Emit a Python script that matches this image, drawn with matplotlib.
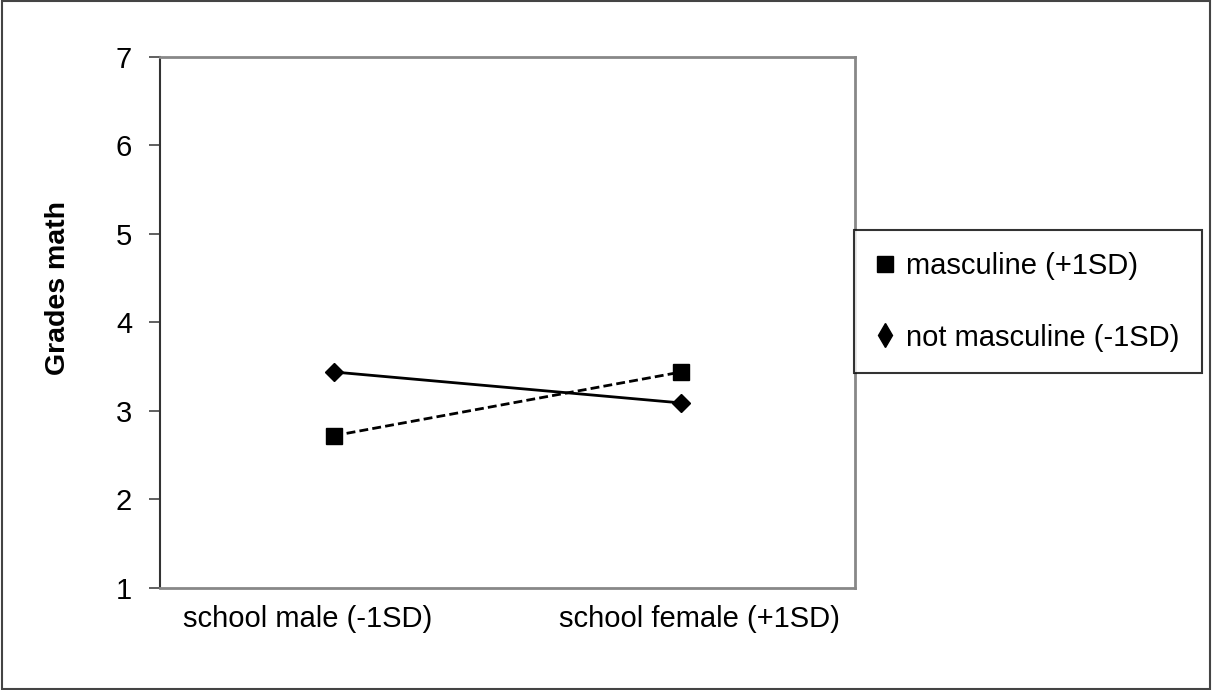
import matplotlib.pyplot as plt
from matplotlib.lines import Line2D
from matplotlib.patches import Rectangle
from matplotlib.transforms import ScaledTranslation

plt.rcParams['font.family'] = ['Liberation Sans', 'DejaVu Sans']

categories = ['school male (-1SD)', 'school female (+1SD)']
masculine = [2.72, 3.44]
not_masculine = [3.44, 3.09]
yticks = [1, 2, 3, 4, 5, 6, 7]

fig = plt.figure(figsize=(12.12, 6.9), dpi=100)
ax = fig.add_axes([0.132, 0.148, 0.5735, 0.7694])

x = range(len(categories))
ax.plot(x, masculine, color='black', linestyle=(0, (3.2, 1.5)), linewidth=2,
        marker='s', markersize=12, markerfacecolor='black')
ax.plot(x, not_masculine, color='black', linestyle='-', linewidth=2,
        marker='D', markersize=9.5, markerfacecolor='black')

ax.set_xlim(-0.5, 1.5)
ax.set_ylim(1, 7)
ax.set_yticks(yticks)
ax.set_xticks(list(x))
ax.set_xticklabels(categories)
ax.tick_params(axis='x', length=0, pad=12, labelsize=21)
ax.tick_params(axis='y', length=8, width=1.2, pad=12, labelsize=21, color='#444444')

# the category labels sit a little off-centre in the original
for lbl, dx in zip(ax.get_xticklabels(), [-19, 13]):
    lbl.set_transform(lbl.get_transform() + ScaledTranslation(dx / 72, 0, fig.dpi_scale_trans))

ax.set_ylabel('Grades math', fontsize=20.5, fontweight='bold')
ax.yaxis.set_label_coords(-0.128, 0.565)

for side in ['top', 'right', 'bottom']:
    ax.spines[side].set_color('#888888')
    ax.spines[side].set_linewidth(2)
ax.spines['left'].set_color('#333333')
ax.spines['left'].set_linewidth(1.5)

handles = [
    Line2D([], [], color='black', marker='s', linestyle='none', markersize=12),
    Line2D([], [], color='black', marker='d', linestyle='none', markersize=12),
]
leg = fig.legend(handles, ['masculine (+1SD)', 'not masculine (-1SD)'],
                 loc='upper left', bbox_to_anchor=(854 / 1212, 1 - 230 / 690),
                 borderaxespad=0, fontsize=21, frameon=True, fancybox=False,
                 edgecolor='black', labelspacing=1.5, handlelength=0.6,
                 handletextpad=0.45, borderpad=0.75)
leg.get_frame().set_linewidth(1.5)

fig.patches.append(Rectangle((0.002, 0.002), 0.996, 0.996, transform=fig.transFigure,
                             fill=False, edgecolor='#444444', linewidth=1.5))

fig.savefig('out.png', dpi=100)
